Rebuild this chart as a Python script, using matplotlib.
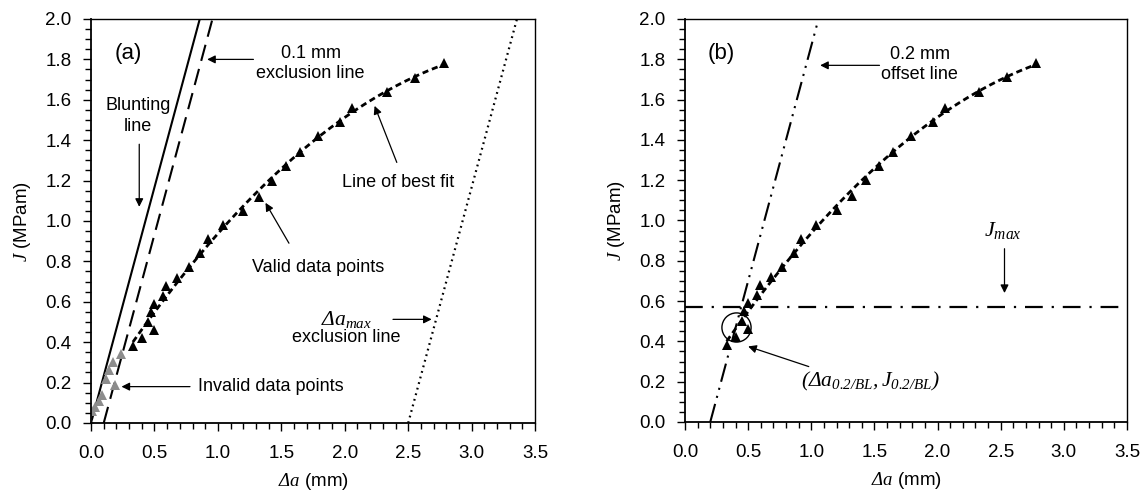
import numpy as np
import matplotlib
matplotlib.use("Agg")
import matplotlib.pyplot as plt
from matplotlib.ticker import MultipleLocator, FormatStrFormatter

plt.rcParams['font.family'] = ['Liberation Sans', 'DejaVu Sans']
plt.rcParams['mathtext.fontset'] = 'custom'
plt.rcParams['mathtext.rm'] = 'Liberation Serif:italic'
plt.rcParams['mathtext.it'] = 'Liberation Serif:italic'
plt.rcParams['font.size'] = 13

########################## DATA ##########################
# valid data points (both panels)
valid_da = [0.33, 0.40, 0.45, 0.47, 0.50, 0.50, 0.57, 0.59, 0.68, 0.77, 0.86,
            0.92, 1.04, 1.20, 1.32, 1.43, 1.54, 1.65, 1.79, 1.96, 2.06, 2.33,
            2.55, 2.78]
valid_J = [0.38, 0.42, 0.50, 0.55, 0.46, 0.59, 0.63, 0.68, 0.72, 0.77, 0.84,
           0.91, 0.98, 1.05, 1.12, 1.20, 1.27, 1.34, 1.42, 1.49, 1.56, 1.64,
           1.71, 1.78]
# invalid data points (panel a)
invalid_da = [0.00, 0.01, 0.03, 0.06, 0.09, 0.12, 0.14, 0.17, 0.19, 0.24]
invalid_J = [0.00, 0.06, 0.08, 0.11, 0.14, 0.22, 0.26, 0.30, 0.19, 0.34]

# construction lines (end points)
blunt_da, blunt_J = [0.0, 0.857], [0.0, 2.0]
excl01_da, excl01_J = [0.1, 0.957], [0.0, 2.0]
exclmax_da, exclmax_J = [2.5, 3.357], [0.0, 2.0]
offset02_da, offset02_J = [0.2, 1.057], [0.0, 2.0]
J_max = 0.57
J_02BL_point = (0.40, 0.47)

########################## FIT ##########################
valid_da = np.array(valid_da)
valid_J = np.array(valid_J)
coef = np.polyfit(valid_da, valid_J, 2)
fit_da = np.linspace(valid_da.min(), valid_da.max(), 200)
fit_J = np.polyval(coef, fit_da)

fig = plt.figure(figsize=(11.48, 4.96), dpi=100)
ax1 = fig.add_axes([0.0793, 0.1472, 0.3868, 0.8145])
ax2 = fig.add_axes([0.5967, 0.1492, 0.3850, 0.8125])

arrow = dict(arrowstyle='-|>', lw=0.9, color='k', mutation_scale=12,
             shrinkA=0, shrinkB=0)


def style_axes(ax):
    ax.set_xlim(0, 3.5)
    ax.set_ylim(0, 2.0)
    ax.xaxis.set_major_locator(MultipleLocator(0.5))
    ax.xaxis.set_minor_locator(MultipleLocator(0.1))
    ax.yaxis.set_major_locator(MultipleLocator(0.2))
    ax.yaxis.set_minor_locator(MultipleLocator(0.05))
    ax.xaxis.set_major_formatter(FormatStrFormatter('%.1f'))
    ax.yaxis.set_major_formatter(FormatStrFormatter('%.1f'))
    ax.tick_params(which='major', direction='out', length=6, width=1,
                   labelsize=13.5)
    ax.tick_params(which='minor', direction='out', length=4, width=1)
    ax.tick_params(axis='x', which='major', pad=10)
    ax.tick_params(axis='y', which='major', pad=8)
    for s in ['left', 'bottom']:
        ax.spines[s].set_linewidth(1.3)
    for s in ['top', 'right']:
        ax.spines[s].set_linewidth(1.0)
    ax.set_xlabel(r'$\Delta a$ (mm)', fontsize=13.5, labelpad=6)
    ax.set_ylabel(r'$J$ (MPam)', fontsize=13.5, labelpad=9)


######################### PANEL (a) #########################
style_axes(ax1)
ax1.plot(blunt_da, blunt_J, color='k', lw=1.5)
ax1.plot(excl01_da, excl01_J, color='k', lw=1.5, linestyle=(0, (8, 4)))
ax1.plot(exclmax_da, exclmax_J, color='k', lw=1.6, linestyle=(0, (0.8, 1.8)))
ax1.plot(fit_da, fit_J, color='k', lw=2.0, linestyle=(0, (2.2, 1.4)))
ax1.plot(valid_da, valid_J, '^', color='k', ms=6.5, mew=0)
ax1.plot(invalid_da, invalid_J, '^', color='#8c8c8c', ms=6.5, mew=0)

ax1.text(0.29, 1.83, '(a)', fontsize=16, ha='center', va='center')
ax1.text(1.73, 1.78, '0.1 mm\nexclusion line', ha='center', va='center',
         linespacing=1.25)
ax1.annotate('', xy=(0.915, 1.80), xytext=(1.28, 1.80), arrowprops=arrow)
ax1.text(0.37, 1.52, 'Blunting\nline', ha='center', va='center',
         linespacing=1.25)
ax1.annotate('', xy=(0.38, 1.07), xytext=(0.38, 1.38), arrowprops=arrow)
ax1.text(2.42, 1.19, 'Line of best fit', ha='center', va='center')
ax1.annotate('', xy=(2.235, 1.57), xytext=(2.41, 1.29), arrowprops=arrow)
ax1.text(1.79, 0.77, 'Valid data points', ha='center', va='center')
ax1.annotate('', xy=(1.375, 1.09), xytext=(1.56, 0.89), arrowprops=arrow)
ax1.text(2.01, 0.51, r'$\Delta a_{max}$', fontsize=15.5,
         ha='center', va='center')
ax1.text(2.01, 0.425, 'exclusion line', ha='center', va='center')
ax1.annotate('', xy=(2.685, 0.513), xytext=(2.38, 0.513), arrowprops=arrow)
ax1.text(1.42, 0.18, 'Invalid data points', ha='center', va='center')
ax1.annotate('', xy=(0.24, 0.18), xytext=(0.78, 0.18), arrowprops=arrow)

######################### PANEL (b) #########################
style_axes(ax2)
ax2.plot(offset02_da, offset02_J, color='k', lw=1.5,
         linestyle=(0, (9, 3, 1, 3, 1, 3)))
ax2.axhline(J_max, color='k', lw=1.6, linestyle=(0, (8, 4, 1, 4)))
ax2.plot(fit_da, fit_J, color='k', lw=2.0, linestyle=(0, (2.2, 1.4)))
ax2.plot(valid_da, valid_J, '^', color='k', ms=6.5, mew=0)
ax2.plot(*J_02BL_point, 'o', mfc='none', mec='k', ms=21, mew=1.0)

ax2.text(0.29, 1.83, '(b)', fontsize=16, ha='center', va='center')
ax2.text(1.86, 1.775, '0.2 mm\noffset line', ha='center', va='center',
         linespacing=1.25)
ax2.annotate('', xy=(1.07, 1.77), xytext=(1.54, 1.77), arrowprops=arrow)
ax2.text(2.52, 0.95, r'$J_{max}$', fontsize=16, ha='center', va='center')
ax2.annotate('', xy=(2.53, 0.64), xytext=(2.53, 0.86), arrowprops=arrow)
ax2.text(1.47, 0.20, r'$(\Delta a_{0.2/BL}, J_{0.2/BL})$', fontsize=15.5,
         ha='center', va='center')
ax2.annotate('', xy=(0.50, 0.375), xytext=(0.98, 0.275), arrowprops=arrow)

fig.savefig('out.png', dpi=100)
